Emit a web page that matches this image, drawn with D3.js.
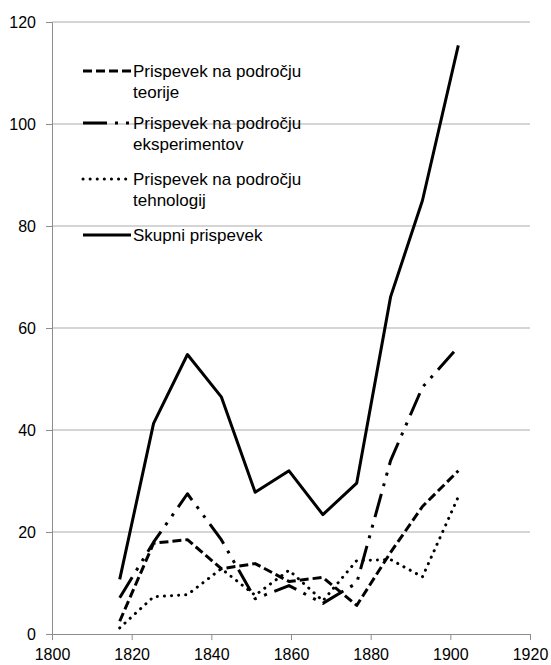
<!DOCTYPE html>
<html>
<head>
<meta charset="utf-8">
<script src="https://cdn.jsdelivr.net/npm/d3@7"></script>
<style>
  body { margin: 0; background: #fff; }
  text { font-family: "Liberation Sans", Arial, sans-serif; fill: #000; }
</style>
</head>
<body>
<div id="chart"></div>
<script>
// data
const years = [1817, 1825.5, 1834, 1842.5, 1851, 1859.5, 1868, 1876.5, 1885, 1893, 1902];
const teorija = [2.5, 17.8, 18.5, 12.8, 13.8, 10.3, 11.1, 5.6, 16, 25, 32];
const eksperimenti = [7.1, 18, 27.5, 18.5, 6.9, 9.5, 6, 10, 34, 48.4, 56.3];
const tehnologije = [1.2, 7.3, 7.7, 12.8, 7.6, 12.5, 6.5, 14.4, 14.6, 11.2, 26.9];
const skupno = [10.7, 41.3, 54.8, 46.5, 27.8, 32.0, 23.4, 29.6, 66.1, 85.0, 115.4];
const xTicks = [1800, 1820, 1840, 1860, 1880, 1900, 1920];
const yTicks = [0, 20, 40, 60, 80, 100, 120];

const series = [
  { name: ["Prispevek na področju", "teorije"], values: teorija, dash: "9,4", cap: "butt", legendY: 71 },
  { name: ["Prispevek na področju", "eksperimentov"], values: eksperimenti, dash: "24,8,3,8,3,8", cap: "butt", legendY: 123 },
  { name: ["Prispevek na področju", "tehnologij"], values: tehnologije, dash: "0.1,7", cap: "round", legendY: 179 },
  { name: ["Skupni prispevek"], values: skupno, dash: null, cap: "butt", legendY: 235 },
];

const width = 551, height = 665;
const margin = { top: 22, right: 21, bottom: 31, left: 52 };

const svg = d3.select("#chart").append("svg")
  .attr("width", width)
  .attr("height", height);

const x = d3.scaleLinear().domain([1800, 1920]).range([margin.left, width - margin.right]);
const y = d3.scaleLinear().domain([0, 120]).range([height - margin.bottom, margin.top]);

// gridlines
svg.append("g")
  .selectAll("line")
  .data(yTicks.filter((d) => d > 0))
  .join("line")
  .attr("x1", x(1800))
  .attr("x2", x(1920))
  .attr("y1", (d) => y(d))
  .attr("y2", (d) => y(d))
  .attr("stroke", "#ababab")
  .attr("stroke-width", 1);

// axes
const yAxis = svg.append("g")
  .attr("transform", `translate(${x(1800)},0)`)
  .call(d3.axisLeft(y).tickValues(yTicks).tickSize(6).tickPadding(10));
const xAxis = svg.append("g")
  .attr("transform", `translate(0,${y(0)})`)
  .call(d3.axisBottom(x).tickValues(xTicks).tickFormat(d3.format("d")).tickSize(6).tickPadding(9));

[yAxis, xAxis].forEach((g) => {
  g.select(".domain").attr("stroke", "#8c8c8c");
  g.selectAll(".tick line").attr("stroke", "#8c8c8c");
  g.selectAll(".tick text")
    .style("font-family", "'Liberation Sans', Arial, sans-serif")
    .style("font-size", "16px")
    .attr("fill", "#000");
});

// lines
const line = d3.line()
  .x((d, i) => x(years[i]))
  .y((d) => y(d));

svg.append("g")
  .selectAll("path")
  .data(series)
  .join("path")
  .attr("d", (s) => line(s.values))
  .attr("fill", "none")
  .attr("stroke", "#000")
  .attr("stroke-width", 3)
  .attr("stroke-linejoin", "round")
  .attr("stroke-linecap", (s) => s.cap)
  .attr("stroke-dasharray", (s) => s.dash);

// legend
const legend = svg.append("g");
series.forEach((s) => {
  legend.append("line")
    .attr("x1", 83)
    .attr("x2", 131)
    .attr("y1", s.legendY)
    .attr("y2", s.legendY)
    .attr("stroke", "#000")
    .attr("stroke-width", 3)
    .attr("stroke-linecap", s.cap)
    .attr("stroke-dasharray", s.dash);
  s.name.forEach((t, j) => {
    legend.append("text")
      .attr("x", 133)
      .attr("y", s.legendY + 6 + j * 21)
      .style("font-size", "17px")
      .text(t);
  });
});
</script>
</body>
</html>
